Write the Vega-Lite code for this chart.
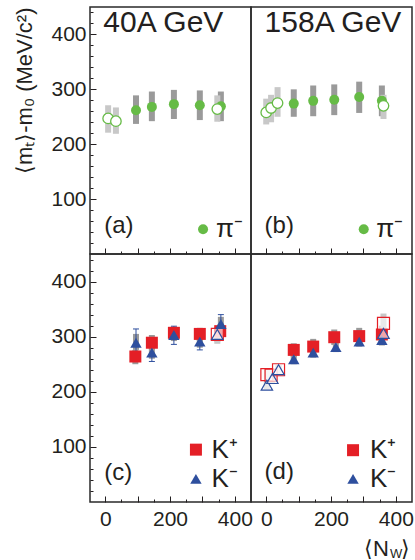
{
  "$schema": "https://vega.github.io/schema/vega-lite/v6.json",
  "padding": {"left": 13, "top": 6, "right": 2, "bottom": 2},
  "background": "white",
  "columns": 2,
  "spacing": 0,
  "bounds": "flush",
  "datasets": {
    "pts": [
      {"E": "40", "p": "pi", "o": 1, "N": 9, "v": 247, "slo": 221, "shi": 271, "elo": 247, "ehi": 247},
      {"E": "40", "p": "pi", "o": 1, "N": 33, "v": 242, "slo": 219, "shi": 267, "elo": 242, "ehi": 242},
      {"E": "40", "p": "pi", "o": 0, "N": 95, "v": 262, "slo": 237, "shi": 289, "elo": 262, "ehi": 262},
      {"E": "40", "p": "pi", "o": 0, "N": 144, "v": 268, "slo": 242, "shi": 296, "elo": 268, "ehi": 268},
      {"E": "40", "p": "pi", "o": 0, "N": 212, "v": 273, "slo": 246, "shi": 299, "elo": 273, "ehi": 273},
      {"E": "40", "p": "pi", "o": 0, "N": 292, "v": 271, "slo": 244, "shi": 298, "elo": 271, "ehi": 271},
      {"E": "40", "p": "pi", "o": 0, "N": 357, "v": 269, "slo": 242, "shi": 296, "elo": 269, "ehi": 269},
      {"E": "40", "p": "pi", "o": 1, "N": 346, "v": 264, "slo": 241, "shi": 289, "elo": 264, "ehi": 264},
      {"E": "158", "p": "pi", "o": 1, "N": 0, "v": 258, "slo": 236, "shi": 283, "elo": 258, "ehi": 258},
      {"E": "158", "p": "pi", "o": 1, "N": 15, "v": 266, "slo": 240, "shi": 290, "elo": 266, "ehi": 266},
      {"E": "158", "p": "pi", "o": 1, "N": 35, "v": 275, "slo": 250, "shi": 304, "elo": 275, "ehi": 275},
      {"E": "158", "p": "pi", "o": 0, "N": 85, "v": 274, "slo": 250, "shi": 300, "elo": 274, "ehi": 274},
      {"E": "158", "p": "pi", "o": 0, "N": 145, "v": 279, "slo": 251, "shi": 307, "elo": 279, "ehi": 279},
      {"E": "158", "p": "pi", "o": 0, "N": 210, "v": 281, "slo": 253, "shi": 309, "elo": 281, "ehi": 281},
      {"E": "158", "p": "pi", "o": 0, "N": 287, "v": 286, "slo": 257, "shi": 314, "elo": 286, "ehi": 286},
      {"E": "158", "p": "pi", "o": 0, "N": 357, "v": 279, "slo": 251, "shi": 307, "elo": 279, "ehi": 279},
      {"E": "158", "p": "pi", "o": 1, "N": 362, "v": 270, "slo": 246, "shi": 290, "elo": 270, "ehi": 270},
      {"E": "40", "p": "Kp", "o": 0, "N": 93, "v": 264, "slo": 250, "shi": 276, "elo": 255, "ehi": 272},
      {"E": "40", "p": "Kp", "o": 0, "N": 144, "v": 289, "slo": 276, "shi": 303, "elo": 282, "ehi": 297},
      {"E": "40", "p": "Kp", "o": 0, "N": 212, "v": 307, "slo": 296, "shi": 318, "elo": 300, "ehi": 314},
      {"E": "40", "p": "Kp", "o": 0, "N": 292, "v": 305, "slo": 292, "shi": 316, "elo": 298, "ehi": 312},
      {"E": "40", "p": "Kp", "o": 0, "N": 355, "v": 310, "slo": 298, "shi": 322, "elo": 303, "ehi": 317},
      {"E": "40", "p": "Kp", "o": 1, "N": 346, "v": 304, "slo": 287, "shi": 313, "elo": 298, "ehi": 310},
      {"E": "40", "p": "Km", "o": 0, "N": 95, "v": 289, "slo": 276, "shi": 305, "elo": 267, "ehi": 314},
      {"E": "40", "p": "Km", "o": 0, "N": 144, "v": 271, "slo": 260, "shi": 284, "elo": 255, "ehi": 294},
      {"E": "40", "p": "Km", "o": 0, "N": 212, "v": 303, "slo": 292, "shi": 316, "elo": 286, "ehi": 319},
      {"E": "40", "p": "Km", "o": 0, "N": 292, "v": 291, "slo": 280, "shi": 303, "elo": 276, "ehi": 307},
      {"E": "40", "p": "Km", "o": 0, "N": 357, "v": 323, "slo": 310, "shi": 336, "elo": 305, "ehi": 340},
      {"E": "40", "p": "Km", "o": 1, "N": 346, "v": 304, "slo": 290, "shi": 318, "elo": 296, "ehi": 312},
      {"E": "158", "p": "Kp", "o": 1, "N": 2, "v": 231, "slo": 222, "shi": 240, "elo": 228, "ehi": 234},
      {"E": "158", "p": "Kp", "o": 1, "N": 15, "v": 230, "slo": 221, "shi": 239, "elo": 227, "ehi": 233},
      {"E": "158", "p": "Kp", "o": 1, "N": 38, "v": 240, "slo": 231, "shi": 249, "elo": 237, "ehi": 243},
      {"E": "158", "p": "Kp", "o": 0, "N": 85, "v": 276, "slo": 263, "shi": 288, "elo": 272, "ehi": 280},
      {"E": "158", "p": "Kp", "o": 0, "N": 145, "v": 282, "slo": 268, "shi": 296, "elo": 278, "ehi": 286},
      {"E": "158", "p": "Kp", "o": 0, "N": 210, "v": 299, "slo": 285, "shi": 313, "elo": 295, "ehi": 303},
      {"E": "158", "p": "Kp", "o": 0, "N": 287, "v": 301, "slo": 287, "shi": 316, "elo": 297, "ehi": 305},
      {"E": "158", "p": "Kp", "o": 0, "N": 357, "v": 304, "slo": 290, "shi": 320, "elo": 300, "ehi": 308},
      {"E": "158", "p": "Kp", "o": 1, "N": 362, "v": 324, "slo": 306, "shi": 342, "elo": 320, "ehi": 328},
      {"E": "158", "p": "Km", "o": 1, "N": 2, "v": 212, "slo": 204, "shi": 220, "elo": 209, "ehi": 215},
      {"E": "158", "p": "Km", "o": 1, "N": 19, "v": 224, "slo": 216, "shi": 232, "elo": 221, "ehi": 227},
      {"E": "158", "p": "Km", "o": 1, "N": 38, "v": 240, "slo": 232, "shi": 248, "elo": 237, "ehi": 243},
      {"E": "158", "p": "Km", "o": 0, "N": 85, "v": 259, "slo": 250, "shi": 268, "elo": 255, "ehi": 263},
      {"E": "158", "p": "Km", "o": 0, "N": 145, "v": 271, "slo": 262, "shi": 280, "elo": 267, "ehi": 275},
      {"E": "158", "p": "Km", "o": 0, "N": 215, "v": 281, "slo": 272, "shi": 290, "elo": 277, "ehi": 285},
      {"E": "158", "p": "Km", "o": 0, "N": 287, "v": 291, "slo": 282, "shi": 300, "elo": 287, "ehi": 295},
      {"E": "158", "p": "Km", "o": 0, "N": 357, "v": 294, "slo": 284, "shi": 304, "elo": 290, "ehi": 298},
      {"E": "158", "p": "Km", "o": 1, "N": 362, "v": 306, "slo": 296, "shi": 316, "elo": 302, "ehi": 310}
    ]
  },
  "concat": [
    {
      "width": 161, "height": 247,
      "resolve": {"scale": {"x": "independent", "y": "independent"}, "axis": {"x": "independent", "y": "independent"}},
      "layer": [
        {
          "layer": [
            {
              "encoding": {
                "x": {"field": "N", "type": "quantitative", "scale": {"domain": [-47, 450], "nice": false},
                  "axis": {"values": [0, 100, 200, 300, 400], "labels": false, "title": null, "tickSize": -6}},
                "y": {"field": "v", "type": "quantitative", "scale": {"domain": [0, 450], "nice": false},
                  "axis": {"values": [100, 200, 300, 400], "tickSize": -6, "labelPadding": 10,
                    "title": "⟨mₜ⟩-m₀ (MeV/c²)", "titleAnchor": "end", "titlePadding": 14}}
              },
              "layer": [
                {"data": {"name": "pts"}, "transform": [{"filter": "datum.E == '40' && datum.p == 'pi'"}],
                  "mark": {"type": "rule", "strokeWidth": 6},
                  "encoding": {"y": {"field": "slo", "type": "quantitative"}, "y2": {"field": "shi"},
                    "color": {"condition": {"test": "datum.o == 1", "value": "#c8c8c8"}, "value": "#9a9a9a"}}},
                {"data": {"name": "pts"}, "transform": [{"filter": "datum.E == '40' && datum.p == 'pi' && datum.o == 0"}],
                  "mark": {"type": "circle", "size": 100, "color": "#66bb46", "opacity": 1}},
                {"data": {"name": "pts"}, "transform": [{"filter": "datum.E == '40' && datum.p == 'pi' && datum.o == 1"}],
                  "mark": {"type": "point", "shape": "circle", "size": 110, "filled": true, "fill": "white", "stroke": "#66bb46", "strokeWidth": 1.3, "opacity": 1}}
              ]
            },
            {"data": {"values": [{"t": "40A GeV"}]}, "mark": {"type": "text", "fontSize": 30, "align": "left", "baseline": "middle"},
              "encoding": {"text": {"field": "t"}, "x": {"datum": -6, "scale": {"domain": [-47, 450], "nice": false}}, "y": {"datum": 420, "scale": {"domain": [0, 450], "nice": false}}}},
            {"data": {"values": [{"t": "(a)"}]}, "mark": {"type": "text", "fontSize": 24, "align": "left", "baseline": "middle"},
              "encoding": {"text": {"field": "t"}, "x": {"datum": -3, "scale": {"domain": [-47, 450], "nice": false}}, "y": {"datum": 51, "scale": {"domain": [0, 450], "nice": false}}}},
            {"data": {"values": [{"t": "π⁻"}]}, "mark": {"type": "circle", "size": 100, "color": "#66bb46", "opacity": 1},
              "encoding": {"x": {"datum": 302, "scale": {"domain": [-47, 450], "nice": false}}, "y": {"datum": 45, "scale": {"domain": [0, 450], "nice": false}}}},
            {"data": {"values": [{"t": "π⁻"}]}, "mark": {"type": "text", "fontSize": 26, "align": "left", "baseline": "middle"},
              "encoding": {"text": {"field": "t"}, "x": {"datum": 342, "scale": {"domain": [-47, 450], "nice": false}}, "y": {"datum": 45, "scale": {"domain": [0, 450], "nice": false}}}}
          ]
        },
        {"data": {"name": "pts"}, "mark": {"type": "point", "opacity": 0},
          "encoding": {
            "x": {"field": "N", "type": "quantitative", "scale": {"domain": [-47, 450], "nice": false},
              "axis": {"values": [50, 150, 250, 350], "labels": false, "title": null, "tickSize": -3, "orient": "bottom"}},
            "y": {"field": "v", "type": "quantitative", "scale": {"domain": [0, 450], "nice": false},
              "axis": {"values": [20, 40, 60, 80, 120, 140, 160, 180, 220, 240, 260, 280, 320, 340, 360, 380, 420, 440], "labels": false, "title": null, "tickSize": -3, "orient": "left"}}
          }}
      ]
    },
    {
      "width": 161, "height": 247,
      "resolve": {"scale": {"x": "independent", "y": "independent"}, "axis": {"x": "independent", "y": "independent"}},
      "layer": [
        {
          "layer": [
            {
              "encoding": {
                "x": {"field": "N", "type": "quantitative", "scale": {"domain": [-47, 450], "nice": false},
                  "axis": {"values": [0, 100, 200, 300, 400], "labels": false, "title": null, "tickSize": -6}},
                "y": {"field": "v", "type": "quantitative", "scale": {"domain": [0, 450], "nice": false}, "axis": null}
              },
              "layer": [
                {"data": {"name": "pts"}, "transform": [{"filter": "datum.E == '158' && datum.p == 'pi'"}],
                  "mark": {"type": "rule", "strokeWidth": 6},
                  "encoding": {"y": {"field": "slo", "type": "quantitative", "axis": null}, "y2": {"field": "shi"},
                    "color": {"condition": {"test": "datum.o == 1", "value": "#c8c8c8"}, "value": "#9a9a9a"}}},
                {"data": {"name": "pts"}, "transform": [{"filter": "datum.E == '158' && datum.p == 'pi' && datum.o == 0"}],
                  "mark": {"type": "circle", "size": 100, "color": "#66bb46", "opacity": 1}},
                {"data": {"name": "pts"}, "transform": [{"filter": "datum.E == '158' && datum.p == 'pi' && datum.o == 1"}],
                  "mark": {"type": "point", "shape": "circle", "size": 110, "filled": true, "fill": "white", "stroke": "#66bb46", "strokeWidth": 1.3, "opacity": 1}}
              ]
            },
            {"data": {"values": [{"t": "158A GeV"}]}, "mark": {"type": "text", "fontSize": 30, "align": "left", "baseline": "middle"},
              "encoding": {"text": {"field": "t"}, "x": {"datum": -5, "scale": {"domain": [-47, 450], "nice": false}}, "y": {"datum": 420, "scale": {"domain": [0, 450], "nice": false}, "axis": null}}},
            {"data": {"values": [{"t": "(b)"}]}, "mark": {"type": "text", "fontSize": 24, "align": "left", "baseline": "middle"},
              "encoding": {"text": {"field": "t"}, "x": {"datum": -5, "scale": {"domain": [-47, 450], "nice": false}}, "y": {"datum": 51, "scale": {"domain": [0, 450], "nice": false}, "axis": null}}},
            {"data": {"values": [{"t": "π⁻"}]}, "mark": {"type": "circle", "size": 100, "color": "#66bb46", "opacity": 1},
              "encoding": {"x": {"datum": 301, "scale": {"domain": [-47, 450], "nice": false}}, "y": {"datum": 45, "scale": {"domain": [0, 450], "nice": false}, "axis": null}}},
            {"data": {"values": [{"t": "π⁻"}]}, "mark": {"type": "text", "fontSize": 26, "align": "left", "baseline": "middle"},
              "encoding": {"text": {"field": "t"}, "x": {"datum": 340, "scale": {"domain": [-47, 450], "nice": false}}, "y": {"datum": 45, "scale": {"domain": [0, 450], "nice": false}, "axis": null}}}
          ]
        },
        {"data": {"name": "pts"}, "mark": {"type": "point", "opacity": 0},
          "encoding": {
            "x": {"field": "N", "type": "quantitative", "scale": {"domain": [-47, 450], "nice": false},
              "axis": {"values": [50, 150, 250, 350], "labels": false, "title": null, "tickSize": -3, "orient": "bottom"}},
            "y": {"field": "v", "type": "quantitative", "scale": {"domain": [0, 450], "nice": false}, "axis": null}
          }}
      ]
    },
    {
      "width": 161, "height": 248,
      "resolve": {"scale": {"x": "independent", "y": "independent"}, "axis": {"x": "independent", "y": "independent"}},
      "layer": [
        {
          "layer": [
            {
              "encoding": {
                "x": {"field": "N", "type": "quantitative", "scale": {"domain": [-47, 450], "nice": false},
                  "axis": {"values": [0, 100, 200, 300, 400], "labelExpr": "datum.value % 200 === 0 ? datum.label : ''", "title": null, "labelPadding": 12, "tickSize": -6}},
                "y": {"field": "v", "type": "quantitative", "scale": {"domain": [0, 450], "nice": false},
                  "axis": {"values": [100, 200, 300, 400], "tickSize": -6, "labelPadding": 10, "title": null}}
              },
              "layer": [
                {"data": {"name": "pts"}, "transform": [{"filter": "datum.E == '40' && datum.p != 'pi'"}],
                  "mark": {"type": "rule", "strokeWidth": 6},
                  "encoding": {"y": {"field": "slo", "type": "quantitative"}, "y2": {"field": "shi"},
                    "color": {"condition": {"test": "datum.o == 1", "value": "#c8c8c8"}, "value": "#9a9a9a"}}},
                {"data": {"name": "pts"}, "transform": [{"filter": "datum.E == '40' && datum.p == 'Kp'"}],
                  "mark": {"type": "rule", "strokeWidth": 1, "color": "#e41f26"},
                  "encoding": {"y": {"field": "elo", "type": "quantitative"}, "y2": {"field": "ehi"}}},
                {"data": {"name": "pts"}, "transform": [{"filter": "datum.E == '40' && datum.p == 'Kp'"}],
                  "mark": {"type": "tick", "orient": "horizontal", "size": 6, "thickness": 1, "color": "#e41f26", "opacity": 1},
                  "encoding": {"y": {"field": "ehi", "type": "quantitative"}}},
                {"data": {"name": "pts"}, "transform": [{"filter": "datum.E == '40' && datum.p == 'Kp'"}],
                  "mark": {"type": "tick", "orient": "horizontal", "size": 6, "thickness": 1, "color": "#e41f26", "opacity": 1},
                  "encoding": {"y": {"field": "elo", "type": "quantitative"}}},
                {"data": {"name": "pts"}, "transform": [{"filter": "datum.E == '40' && datum.p == 'Km'"}],
                  "mark": {"type": "rule", "strokeWidth": 1, "color": "#2e4f9e"},
                  "encoding": {"y": {"field": "elo", "type": "quantitative"}, "y2": {"field": "ehi"}}},
                {"data": {"name": "pts"}, "transform": [{"filter": "datum.E == '40' && datum.p == 'Km'"}],
                  "mark": {"type": "tick", "orient": "horizontal", "size": 6, "thickness": 1, "color": "#2e4f9e", "opacity": 1},
                  "encoding": {"y": {"field": "ehi", "type": "quantitative"}}},
                {"data": {"name": "pts"}, "transform": [{"filter": "datum.E == '40' && datum.p == 'Km'"}],
                  "mark": {"type": "tick", "orient": "horizontal", "size": 6, "thickness": 1, "color": "#2e4f9e", "opacity": 1},
                  "encoding": {"y": {"field": "elo", "type": "quantitative"}}},
                {"data": {"name": "pts"}, "transform": [{"filter": "datum.E == '40' && datum.p == 'Kp' && datum.o == 0"}],
                  "mark": {"type": "square", "size": 144, "color": "#e41f26", "opacity": 1}},
                {"data": {"name": "pts"}, "transform": [{"filter": "datum.E == '40' && datum.p == 'Kp' && datum.o == 1"}],
                  "mark": {"type": "point", "shape": "square", "size": 144, "filled": true, "fill": "white", "fillOpacity": 0.6, "stroke": "#e41f26", "strokeWidth": 1.2, "opacity": 1}},
                {"data": {"name": "pts"}, "transform": [{"filter": "datum.E == '40' && datum.p == 'Km' && datum.o == 0"}],
                  "mark": {"type": "point", "shape": "triangle-up", "size": 130, "filled": true, "color": "#2e4f9e", "opacity": 1}},
                {"data": {"name": "pts"}, "transform": [{"filter": "datum.E == '40' && datum.p == 'Km' && datum.o == 1"}],
                  "mark": {"type": "point", "shape": "triangle-up", "size": 130, "filled": true, "fill": "white", "fillOpacity": 0.6, "stroke": "#2e4f9e", "strokeWidth": 1.2, "opacity": 1}}
              ]
            },
            {"data": {"values": [{"t": "(c)"}]}, "mark": {"type": "text", "fontSize": 24, "align": "left", "baseline": "middle"},
              "encoding": {"text": {"field": "t"}, "x": {"datum": -3, "scale": {"domain": [-47, 450], "nice": false}}, "y": {"datum": 52, "scale": {"domain": [0, 450], "nice": false}}}},
            {"data": {"values": [{"t": "K⁺"}]}, "mark": {"type": "square", "size": 144, "color": "#e41f26", "opacity": 1},
              "encoding": {"x": {"datum": 280, "scale": {"domain": [-47, 450], "nice": false}}, "y": {"datum": 95, "scale": {"domain": [0, 450], "nice": false}}}},
            {"data": {"values": [{"t": "K⁻"}]}, "mark": {"type": "point", "shape": "triangle-up", "size": 130, "filled": true, "color": "#2e4f9e", "opacity": 1},
              "encoding": {"x": {"datum": 280, "scale": {"domain": [-47, 450], "nice": false}}, "y": {"datum": 42, "scale": {"domain": [0, 450], "nice": false}}}},
            {"data": {"values": [{"t": "K⁺"}]}, "mark": {"type": "text", "fontSize": 26, "align": "left", "baseline": "middle"},
              "encoding": {"text": {"field": "t"}, "x": {"datum": 328, "scale": {"domain": [-47, 450], "nice": false}}, "y": {"datum": 95, "scale": {"domain": [0, 450], "nice": false}}}},
            {"data": {"values": [{"t": "K⁻"}]}, "mark": {"type": "text", "fontSize": 26, "align": "left", "baseline": "middle"},
              "encoding": {"text": {"field": "t"}, "x": {"datum": 328, "scale": {"domain": [-47, 450], "nice": false}}, "y": {"datum": 42, "scale": {"domain": [0, 450], "nice": false}}}}
          ]
        },
        {"data": {"name": "pts"}, "mark": {"type": "point", "opacity": 0},
          "encoding": {
            "x": {"field": "N", "type": "quantitative", "scale": {"domain": [-47, 450], "nice": false},
              "axis": {"values": [50, 150, 250, 350], "labels": false, "title": null, "tickSize": -3, "orient": "bottom"}},
            "y": {"field": "v", "type": "quantitative", "scale": {"domain": [0, 450], "nice": false},
              "axis": {"values": [20, 40, 60, 80, 120, 140, 160, 180, 220, 240, 260, 280, 320, 340, 360, 380, 420, 440], "labels": false, "title": null, "tickSize": -3, "orient": "left"}}
          }}
      ]
    },
    {
      "width": 161, "height": 248,
      "resolve": {"scale": {"x": "independent", "y": "independent"}, "axis": {"x": "independent", "y": "independent"}},
      "layer": [
        {
          "layer": [
            {
              "encoding": {
                "x": {"field": "N", "type": "quantitative", "scale": {"domain": [-47, 450], "nice": false},
                  "axis": {"values": [0, 100, 200, 300, 400], "labelExpr": "datum.value % 200 === 0 ? datum.label : ''", "title": null, "labelPadding": 12, "tickSize": -6}},
                "y": {"field": "v", "type": "quantitative", "scale": {"domain": [0, 450], "nice": false}, "axis": null}
              },
              "layer": [
                {"data": {"name": "pts"}, "transform": [{"filter": "datum.E == '158' && datum.p != 'pi'"}],
                  "mark": {"type": "rule", "strokeWidth": 6},
                  "encoding": {"y": {"field": "slo", "type": "quantitative", "axis": null}, "y2": {"field": "shi"},
                    "color": {"condition": {"test": "datum.o == 1", "value": "#c8c8c8"}, "value": "#9a9a9a"}}},
                {"data": {"name": "pts"}, "transform": [{"filter": "datum.E == '158' && datum.p == 'Kp' && datum.o == 0"}],
                  "mark": {"type": "square", "size": 144, "color": "#e41f26", "opacity": 1}},
                {"data": {"name": "pts"}, "transform": [{"filter": "datum.E == '158' && datum.p == 'Kp' && datum.o == 1"}],
                  "mark": {"type": "point", "shape": "square", "size": 144, "filled": true, "fill": "white", "fillOpacity": 0.6, "stroke": "#e41f26", "strokeWidth": 1.2, "opacity": 1}},
                {"data": {"name": "pts"}, "transform": [{"filter": "datum.E == '158' && datum.p == 'Km' && datum.o == 0"}],
                  "mark": {"type": "point", "shape": "triangle-up", "size": 130, "filled": true, "color": "#2e4f9e", "opacity": 1}},
                {"data": {"name": "pts"}, "transform": [{"filter": "datum.E == '158' && datum.p == 'Km' && datum.o == 1"}],
                  "mark": {"type": "point", "shape": "triangle-up", "size": 130, "filled": true, "fill": "white", "fillOpacity": 0.6, "stroke": "#2e4f9e", "strokeWidth": 1.2, "opacity": 1}}
              ]
            },
            {"data": {"values": [{"t": "(d)"}]}, "mark": {"type": "text", "fontSize": 24, "align": "left", "baseline": "middle"},
              "encoding": {"text": {"field": "t"}, "x": {"datum": -5, "scale": {"domain": [-47, 450], "nice": false}}, "y": {"datum": 55, "scale": {"domain": [0, 450], "nice": false}, "axis": null}}},
            {"data": {"values": [{"t": "K⁺"}]}, "mark": {"type": "square", "size": 144, "color": "#e41f26", "opacity": 1},
              "encoding": {"x": {"datum": 268, "scale": {"domain": [-47, 450], "nice": false}}, "y": {"datum": 94, "scale": {"domain": [0, 450], "nice": false}, "axis": null}}},
            {"data": {"values": [{"t": "K⁻"}]}, "mark": {"type": "point", "shape": "triangle-up", "size": 130, "filled": true, "color": "#2e4f9e", "opacity": 1},
              "encoding": {"x": {"datum": 268, "scale": {"domain": [-47, 450], "nice": false}}, "y": {"datum": 42, "scale": {"domain": [0, 450], "nice": false}, "axis": null}}},
            {"data": {"values": [{"t": "K⁺"}]}, "mark": {"type": "text", "fontSize": 26, "align": "left", "baseline": "middle"},
              "encoding": {"text": {"field": "t"}, "x": {"datum": 320, "scale": {"domain": [-47, 450], "nice": false}}, "y": {"datum": 94, "scale": {"domain": [0, 450], "nice": false}, "axis": null}}},
            {"data": {"values": [{"t": "K⁻"}]}, "mark": {"type": "text", "fontSize": 26, "align": "left", "baseline": "middle"},
              "encoding": {"text": {"field": "t"}, "x": {"datum": 320, "scale": {"domain": [-47, 450], "nice": false}}, "y": {"datum": 42, "scale": {"domain": [0, 450], "nice": false}, "axis": null}}},
            {"data": {"values": [{"t": "⟨N"}]}, "mark": {"type": "text", "fontSize": 22, "align": "left", "baseline": "middle"},
              "encoding": {"text": {"field": "t"}, "x": {"datum": 302, "scale": {"domain": [-47, 450], "nice": false}}, "y": {"datum": -85, "scale": {"domain": [0, 450], "nice": false}, "axis": null}}},
            {"data": {"values": [{"t": "W"}]}, "mark": {"type": "text", "fontSize": 13, "align": "left", "baseline": "middle"},
              "encoding": {"text": {"field": "t"}, "x": {"datum": 382, "scale": {"domain": [-47, 450], "nice": false}}, "y": {"datum": -95, "scale": {"domain": [0, 450], "nice": false}, "axis": null}}},
            {"data": {"values": [{"t": "⟩"}]}, "mark": {"type": "text", "fontSize": 22, "align": "left", "baseline": "middle"},
              "encoding": {"text": {"field": "t"}, "x": {"datum": 416, "scale": {"domain": [-47, 450], "nice": false}}, "y": {"datum": -85, "scale": {"domain": [0, 450], "nice": false}, "axis": null}}}
          ]
        },
        {"data": {"name": "pts"}, "mark": {"type": "point", "opacity": 0},
          "encoding": {
            "x": {"field": "N", "type": "quantitative", "scale": {"domain": [-47, 450], "nice": false},
              "axis": {"values": [50, 150, 250, 350], "labels": false, "title": null, "tickSize": -3, "orient": "bottom"}},
            "y": {"field": "v", "type": "quantitative", "scale": {"domain": [0, 450], "nice": false}, "axis": null}
          }}
      ]
    }
  ],
  "config": {
    "view": {"stroke": "#2a2a2a", "strokeWidth": 1.5},
    "font": "Liberation Sans",
    "axis": {"domain": false, "grid": false, "labelFont": "Liberation Sans", "labelFontSize": 21, "labelColor": "#231f20",
      "tickColor": "#231f20", "tickWidth": 1, "labelFlush": false, "labelOverlap": false,
      "titleFont": "Liberation Sans", "titleFontWeight": "normal", "titleFontSize": 22, "titleColor": "#231f20"},
    "text": {"font": "Liberation Sans", "color": "#231f20"}
  }
}
